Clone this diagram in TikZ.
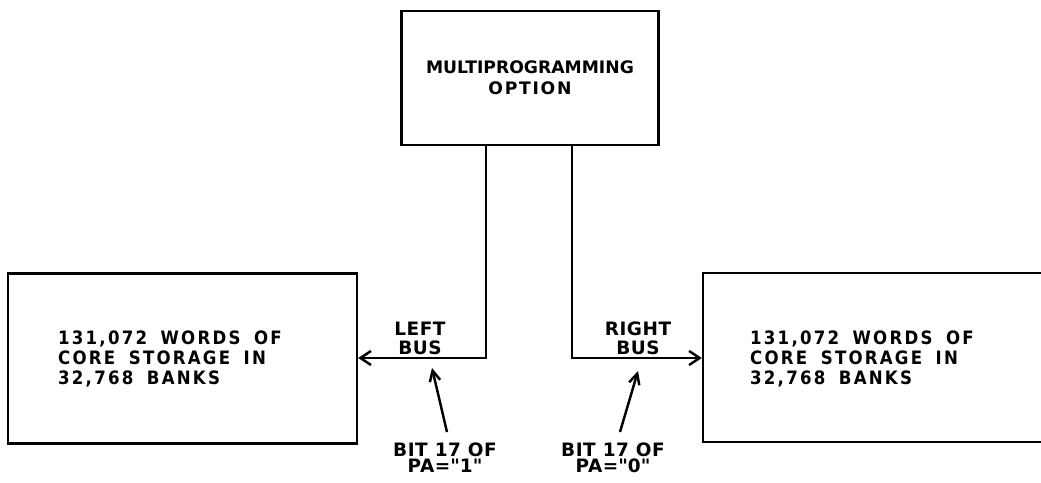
\documentclass[tikz,border=0pt]{standalone}
\usepackage{fontspec}
\setmainfont{DejaVu Sans}
\newfontfamily\corefont{DejaVu Sans Condensed Bold}[LetterSpace=12,WordSpace=1.7]
\usetikzlibrary{arrows.meta}

\begin{document}
\begin{tikzpicture}[x=0.02cm, y=-0.02cm, line width=1.4pt,
    box/.style={draw, rectangle, inner sep=0pt},
    boxtext/.style={align=left, inner sep=0pt,
      font={\corefont\fontsize{10.5}{11.3}\selectfont}},
    tag/.style={align=center, inner sep=1pt,
      font={\bfseries\fontsize{10.5}{#1}\selectfont\addfontfeature{LetterSpace=3}}},
    tag/.default=9.2,
    bus/.style={-{Straight Barb[length=6pt,width=8pt]}},
    pointer/.style={-{Straight Barb[length=6pt,width=6pt]}}]
  \useasboundingbox (0,0) rectangle (1041,483);
  \clip (0,0) rectangle (1041,483);
  \node[box, minimum width=5.14cm, minimum height=2.68cm, align=center,
    font={\bfseries\fontsize{9.8}{12}\selectfont}] (mpo) at (530,78)
    {MULTIPROGRAMMING\\{\addfontfeature{LetterSpace=10}OPTION}};
  \node[box, minimum width=6.98cm, minimum height=3.4cm] (core l) at (182.5,358.5) {};
  \node[box, minimum width=7.14cm, minimum height=3.38cm] (core r) at (881.5,357.5) {};
  \node[boxtext, anchor=west] (text l) at (57,359) {131,072 WORDS OF\\CORE STORAGE IN\\32,768 BANKS};
  \node[boxtext, anchor=west] (text r) at (749,359) {131,072 WORDS OF\\CORE STORAGE IN\\32,768 BANKS};
  \coordinate (lbend) at (486,358);
  \coordinate (rbend) at (572,358);
  \draw[bus] (mpo.south -| lbend) -- (lbend) -- (core l.east |- lbend);
  \draw[bus] (mpo.south -| rbend) -- (rbend) -- (core r.west |- rbend);
  \node[tag=10.8] (lbus) at (420,338) {LEFT\\BUS};
  \node[tag=10.8] (rbus) at (638,338) {RIGHT\\BUS};
  \node[tag] (lbit) at (445,458) {BIT 17 OF\\PA=\textquotedbl1\textquotedbl};
  \node[tag] (rbit) at (613,458) {BIT 17 OF\\PA=\textquotedbl0\textquotedbl};
  \coordinate (ltip) at (432,368);
  \coordinate (rtip) at (638,371);
  \draw[pointer] (lbit.north) ++(2,-8) -- (ltip);
  \draw[pointer] (rbit.north) ++(7,-8) -- (rtip);
\end{tikzpicture}
\end{document}
